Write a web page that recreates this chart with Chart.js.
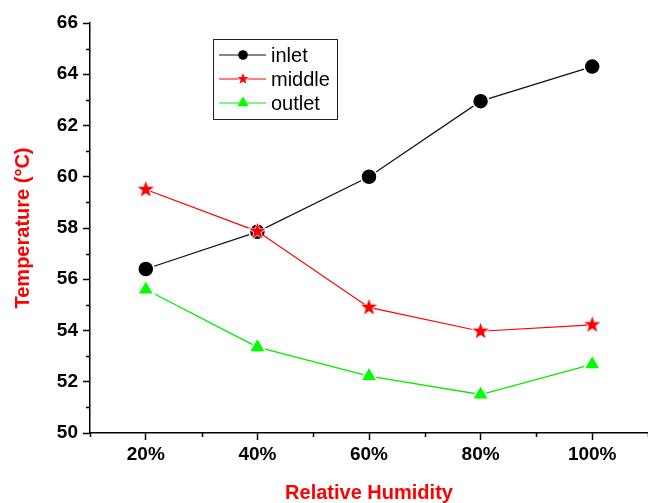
<!DOCTYPE html>
<html>
<head>
<meta charset="utf-8">
<script src="https://cdn.jsdelivr.net/npm/chart.js@4/dist/chart.umd.min.js"></script>
<style>
  body { margin: 0; background: #fff; }
  #wrap { width: 648px; height: 503px; position: relative; }
</style>
</head>
<body>
<div id="wrap"><canvas id="tempChart"></canvas></div>
<script>
// values
const humidity = [20, 40, 60, 80, 100];
const inletTemp = [56.4, 57.85, 60.0, 62.95, 64.3];
const middleTemp = [59.5, 57.87, 54.9, 53.97, 54.22];
const outletTemp = [55.6, 53.35, 52.22, 51.5, 52.68];
const seriesNames = ['inlet', 'middle', 'outlet'];
const yTickLabels = [50, 52, 54, 56, 58, 60, 62, 64, 66];
const xTickLabels = ['20%', '40%', '60%', '80%', '100%'];

const FONT = 'Arial, "Liberation Sans", Helvetica, sans-serif';

function makeStar(outer, color) {
    const c = document.createElement('canvas');
    const s = Math.ceil(outer * 2 + 4);
    c.width = s; c.height = s;
    const ctx = c.getContext('2d');
    const inner = outer * 0.4;
    ctx.beginPath();
    for (let i = 0; i < 10; i++) {
        const r = i % 2 === 0 ? outer : inner;
        const a = -Math.PI / 2 + i * Math.PI / 5;
        const px = s / 2 + Math.cos(a) * r;
        const py = s / 2 + Math.sin(a) * r;
        if (i === 0) ctx.moveTo(px, py); else ctx.lineTo(px, py);
    }
    ctx.closePath();
    ctx.lineWidth = 1.5;
    ctx.strokeStyle = '#fff';
    ctx.stroke();
    ctx.fillStyle = color;
    ctx.fill();
    return c;
}

const bigStar = makeStar(8.5, '#ff0000');
const smallStar = makeStar(6, '#ff0000');

// small minor ticks between the labelled ones
const minorTicks = {
    id: 'minorTicks',
    afterDraw(chart) {
        const ctx = chart.ctx;
        const area = chart.chartArea;
        const ys = chart.scales.y;
        const xs = chart.scales.x;
        ctx.save();
        ctx.strokeStyle = '#000';
        ctx.lineWidth = 1.5;
        ys.ticks.forEach(t => {
            if (!yTickLabels.includes(t.value)) {
                const py = Math.round(ys.getPixelForValue(t.value)) + 0.5;
                ctx.beginPath();
                ctx.moveTo(area.left, py);
                ctx.lineTo(area.left - 4, py);
                ctx.stroke();
            }
        });
        xs.ticks.forEach(t => {
            if (!humidity.includes(t.value)) {
                const px = Math.round(xs.getPixelForValue(t.value)) + 0.5;
                ctx.beginPath();
                ctx.moveTo(px, area.bottom);
                ctx.lineTo(px, area.bottom + 4);
                ctx.stroke();
            }
        });
        ctx.restore();
    }
};

// boxed legend inside the plot
const boxLegend = {
    id: 'boxLegend',
    afterDraw(chart) {
        const ctx = chart.ctx;
        const left = 213.5, top = 39.5, w = 124, h = 80;
        ctx.save();
        ctx.fillStyle = '#fff';
        ctx.fillRect(left, top, w, h);
        ctx.strokeStyle = '#222';
        ctx.lineWidth = 1;
        ctx.strokeRect(left, top, w, h);
        const marks = [
            { style: 'circle', radius: 4.8 },
            { style: smallStar, radius: 6 },
            { style: 'triangle', radius: 6.5 }
        ];
        chart.data.datasets.forEach((ds, i) => {
            const y = 55 + i * 24;
            ctx.strokeStyle = ds.borderColor;
            ctx.lineWidth = 1.2;
            ctx.beginPath();
            ctx.moveTo(219, y);
            ctx.lineTo(266, y);
            ctx.stroke();
            ctx.fillStyle = ds.pointBackgroundColor;
            ctx.strokeStyle = ds.pointBackgroundColor;
            Chart.helpers.drawPoint(ctx, {
                pointStyle: marks[i].style,
                radius: marks[i].radius,
                rotation: 0,
                borderWidth: 0
            }, 243, y);
            ctx.fillStyle = '#000';
            ctx.font = '20px ' + FONT;
            ctx.textBaseline = 'middle';
            ctx.textAlign = 'left';
            ctx.fillText(seriesNames[i], 271, y + 1);
        });
        ctx.restore();
    }
};

function toPoints(vals) {
    return humidity.map((h, i) => ({ x: h, y: vals[i] }));
}

new Chart(document.getElementById('tempChart'), {
    type: 'line',
    data: {
        datasets: [
            {
                label: seriesNames[0],
                data: toPoints(inletTemp),
                borderColor: '#111',
                borderWidth: 1.2,
                pointStyle: 'circle',
                pointRadius: 8,
                pointBackgroundColor: '#000',
                pointBorderColor: '#fff',
                pointBorderWidth: 1.5,
                order: 2
            },
            {
                label: seriesNames[1],
                data: toPoints(middleTemp),
                borderColor: '#ff0000',
                borderWidth: 1.2,
                pointStyle: bigStar,
                pointBackgroundColor: '#ff0000',
                order: 1
            },
            {
                label: seriesNames[2],
                data: toPoints(outletTemp),
                borderColor: '#00ee00',
                borderWidth: 1.4,
                pointStyle: 'triangle',
                pointRadius: 9.5,
                pointBackgroundColor: '#00ff00',
                pointBorderColor: '#fff',
                pointBorderWidth: 1.5,
                order: 3
            }
        ]
    },
    options: {
        responsive: true,
        maintainAspectRatio: false,
        animation: false,
        layout: { autoPadding: false, padding: { top: 23, right: 0, left: 0, bottom: 0 } },
        plugins: {
            legend: { display: false },
            tooltip: { enabled: false }
        },
        scales: {
            x: {
                type: 'linear',
                min: 10,
                max: 110,
                afterFit: s => { s.height = 70; s.paddingRight = 0; s.paddingLeft = 0; },
                border: { color: '#000', width: 1.5 },
                grid: {
                    drawOnChartArea: false,
                    tickLength: 7,
                    tickWidth: 1.5,
                    tickColor: c => humidity.includes(c.tick.value) ? '#000' : 'rgba(0,0,0,0)'
                },
                ticks: {
                    stepSize: 10,
                    autoSkip: false,
                    maxRotation: 0,
                    padding: 3,
                    color: '#000',
                    font: { family: FONT, size: 19, weight: 'bold' },
                    callback: v => {
                        const i = humidity.indexOf(v);
                        return i >= 0 ? xTickLabels[i] : '';
                    }
                },
                title: {
                    display: true,
                    text: 'Relative Humidity',
                    color: '#ff0000',
                    font: { family: FONT, size: 20, weight: 'bold', lineHeight: 1 },
                    padding: { top: 0, bottom: 0 }
                }
            },
            y: {
                min: 50,
                max: 66,
                afterFit: s => { s.width = 90; },
                border: { color: '#000', width: 1.5 },
                grid: {
                    drawOnChartArea: false,
                    tickLength: 7,
                    tickWidth: 1.5,
                    tickColor: c => yTickLabels.includes(c.tick.value) ? '#000' : 'rgba(0,0,0,0)'
                },
                ticks: {
                    stepSize: 1,
                    autoSkip: false,
                    padding: 5,
                    color: '#000',
                    font: { family: FONT, size: 19, weight: 'bold' },
                    callback: v => yTickLabels.includes(v) ? String(v) : ''
                },
                title: {
                    display: true,
                    text: 'Temperature (°C)',
                    color: '#ff0000',
                    font: { family: FONT, size: 20, weight: 'bold', lineHeight: 1.2 },
                    padding: { top: 11, bottom: 0 }
                }
            }
        }
    },
    plugins: [minorTicks, boxLegend]
});
</script>
</body>
</html>
